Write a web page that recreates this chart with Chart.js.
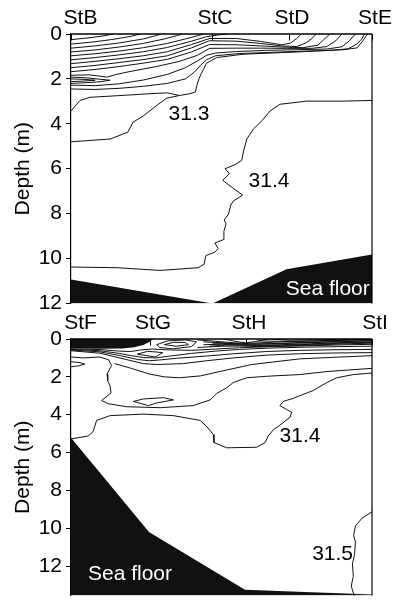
<!DOCTYPE html>
<html>
<head>
<meta charset="utf-8">
<script src="https://cdn.jsdelivr.net/npm/chart.js@4"></script>
<style>
  html, body { margin: 0; padding: 0; background: #fff; }
  #wrap { position: relative; width: 395px; height: 612px; overflow: hidden; }
  canvas { position: absolute; left: 0; }
</style>
</head>
<body>
<div id="wrap">
  <canvas id="upper" width="395" height="320" style="top:0"></canvas>
  <canvas id="lower" width="395" height="312" style="top:300px"></canvas>
</div>
<script>
// ---- shared ----
const depthTicks = [0, 2, 4, 6, 8, 10, 12];

// ---- upper section: StB - StE (x = % of section length, y = depth in m) ----
const upperStations = ['StB', 'StC', 'StD', 'StE'];
const upperStationPos = [0, 46.8, 72.4, 100];
const upperSeaFloor = [[0, 10.93], [47, 12], [71.6, 10.48], [100, 9.82]];

// 31.3 isohaline: rises from 4.8 m at StB, climbs at StC and runs under the surface layer to StE
const upperIso313 = [[0, 4.8], [13, 4.68], [18.9, 4.37], [20.6, 3.93], [24, 3.65], [28.5, 3.18], [31.8, 2.86],
  [36, 2.74], [39.5, 2.66], [41.3, 2.58], [41.8, 2.3], [42.5, 2.0], [43.3, 1.76], [44, 1.58], [45, 1.3],
  [46.8, 1.17], [48.4, 1.05], [57.2, 0.9], [75, 0.8], [90.5, 0.7], [95, 0.62], [96.7, 0.35], [98.2, 0.06], [98.7, 0]];

const upperIso314 = [[0, 10.38], [15.3, 10.41], [29.6, 10.53], [42.2, 10.41], [44.2, 10.26], [44.8, 9.87],
  [47.8, 9.72], [48.9, 9.56], [47.8, 9.31], [50.6, 9.16], [50.8, 8.79], [51.5, 8.46], [50.9, 8.28],
  [52.3, 8.03], [53.1, 7.62], [53.9, 7.44], [57.0, 7.18], [50.4, 6.52], [52.6, 6.22], [51.2, 6.0],
  [54.5, 5.82], [56.7, 5.63], [57.5, 5.12], [58.4, 4.68], [60.6, 4.23], [63.4, 3.87], [66.1, 3.43],
  [69.4, 3.13], [78.3, 2.99], [90.5, 2.99], [100, 2.96]];

// shallow isohalines crowding the surface layer
const upperLayers = [
  [[0, 0.25], [6, 0.17], [11, 0.08], [14, 0]],
  [[0, 0.45], [7, 0.36], [14, 0.24], [20, 0.1], [23, 0]],
  [[0, 0.63], [8, 0.53], [16, 0.4], [24, 0.22], [28, 0.08], [30, 0]],
  [[0, 0.8], [8, 0.71], [16, 0.58], [24, 0.42], [31, 0.22], [35, 0.08], [37, 0]],
  [[0, 0.97], [8, 0.88], [16, 0.76], [24, 0.61], [32, 0.42], [38, 0.22], [42, 0.08], [44, 0]],
  [[0, 1.15], [8, 1.05], [16, 0.93], [24, 0.79], [32, 0.6], [40, 0.32], [45, 0.12], [49, 0.04], [52, 0]],
  [[0, 1.32], [8, 1.22], [16, 1.1], [24, 0.97], [32, 0.79], [40, 0.47], [46, 0.2], [55, 0.2], [63, 0.33],
   [70, 0.48], [73, 0.4], [75, 0.2], [76.5, 0]],
  [[0, 1.5], [8, 1.4], [16, 1.27], [24, 1.14], [32, 0.97], [40, 0.62], [46, 0.3], [55, 0.32], [63, 0.42],
   [70, 0.53], [75, 0.56], [78, 0.4], [80, 0.2], [81.5, 0]],
  [[0, 1.68], [8, 1.58], [16, 1.45], [24, 1.3], [32, 1.13], [40, 0.8], [46, 0.47], [55, 0.48], [63, 0.53],
   [70, 0.58], [77, 0.61], [82, 0.5], [84, 0.25], [86, 0]],
  [[0, 1.84], [6, 1.82], [12, 1.92], [15, 1.8], [20, 1.66], [28, 1.46], [36, 1.22], [42, 0.95], [46, 0.64],
   [55, 0.63], [63, 0.63], [72, 0.64], [80, 0.64], [85, 0.56], [88, 0.3], [90, 0]],
  [[0, 1.92], [5, 1.95], [10, 2.02], [13, 2.06], [10, 2.12], [5, 2.17], [0, 2.2]],
  [[0, 2.0], [4, 2.02], [8, 2.06], [4, 2.1], [0, 2.12]],
  [[0, 2.28], [8, 2.3], [16, 2.22], [24, 2.05], [32, 1.8], [38, 1.5], [42, 1.2], [45, 0.95], [48, 0.85],
   [55, 0.78], [65, 0.73], [75, 0.7], [85, 0.67], [90, 0.57], [92.5, 0.3], [94.5, 0]],
  [[0, 2.45], [8, 2.47], [16, 2.42], [24, 2.33], [32, 2.2], [38, 2.0], [41, 1.7], [43, 1.4], [45, 1.15],
   [48, 0.97], [56, 0.87], [66, 0.82], [76, 0.77], [86, 0.73], [92, 0.66], [95, 0.45], [96.7, 0.2], [97.5, 0]],
  [[0, 3.43], [3, 2.96], [6.3, 2.82], [15.3, 2.75], [26.2, 2.66], [32, 2.62], [36, 2.74]]
];

const upperNotes = [
  { text: '31.3', x: 39.2, y: 3.57, color: '#000' },
  { text: '31.4', x: 65.8, y: 6.57, color: '#000' },
  { text: 'Sea floor', x: 85.3, y: 11.38, color: '#fff' }
];

// ---- lower section: StF - StI ----
const lowerStations = ['StF', 'StG', 'StH', 'StI'];
const lowerStationPos = [0, 26.2, 58.0, 100];
const lowerSeaFloor = [[0, 5.22], [25.9, 10.2], [57.8, 13.25], [100, 13.5]];
const lowerSurfaceCore = [[0, 0.5], [10, 0.52], [17, 0.5], [21, 0.44], [24, 0.32], [26, 0.16], [27, 0.04], [27.5, 0]];

const lowerIso314 = [[0, 5.28], [5.7, 5.13], [7.4, 4.88], [8.5, 4.3], [13, 4.05], [24, 3.97], [34, 4.05],
  [42.9, 4.3], [45.1, 4.63], [47.3, 5.05], [47.5, 5.47], [51.7, 5.75], [61.7, 5.72], [64.5, 5.47],
  [65.5, 5.13], [67.2, 4.8], [69.4, 4.55], [72.8, 4.13], [73.3, 3.88], [71.6, 3.72], [69.4, 3.52],
  [70.5, 3.3], [73.9, 3.13], [80.5, 2.72], [85, 2.3], [88.3, 2.05], [93.8, 1.88], [100, 1.8]];

const lowerIso315 = [[100, 9.13], [96.7, 9.47], [94.5, 9.88], [93.9, 10.39], [94.5, 10.72], [94.2, 11.39],
  [93.5, 11.88], [93.8, 12.55], [93.1, 13.05], [93.9, 13.47], [94, 13.55]];

const lowerLayers = [
  [[0, 0.95], [4, 1.0], [9.6, 0.95], [12.5, 1.1], [13.5, 1.4], [12, 1.85], [12.2, 2.2], [13, 2.5],
   [13.3, 2.85], [10.2, 3.25], [12.4, 3.42], [18.5, 3.58], [29.6, 3.63], [40.6, 3.52], [46.2, 3.22],
   [48.4, 2.88], [51.7, 2.58], [53.9, 2.3], [58.4, 2.05], [65, 1.97], [76, 1.88], [85, 1.72], [100, 1.55]],
  [[20.7, 3.3], [24, 3.17], [30.7, 3.1], [34, 3.22], [28.5, 3.38], [25.7, 3.52], [20.7, 3.3]],
  [[14.5, 1.3], [20, 1.55], [26, 1.85], [31, 2.0], [36, 2.05], [43, 1.95], [50, 1.7], [60, 1.35], [76, 1.05],
   [87, 0.97], [100, 0.88]],
  [[0, 0.62], [9.6, 0.75], [17.4, 1.05], [24, 1.3], [28.5, 1.35], [37.3, 1.3], [45, 1.15], [53.9, 1.0],
   [65, 0.85], [76, 0.78], [87, 0.74], [100, 0.72]],
  [[0, 0.58], [9.6, 0.68], [17, 0.9], [22, 1.08], [26, 1.15], [30, 1.1], [35, 1.02], [45, 0.9], [54, 0.78],
   [65, 0.66], [76, 0.6], [87, 0.57], [100, 0.55]],
  [[0, 0.55], [9.6, 0.62], [16, 0.76], [20, 0.88], [24, 0.98], [28, 1.0], [33, 0.9], [40, 0.76], [48, 0.64],
   [56, 0.55], [66, 0.48], [78, 0.43], [90, 0.4], [100, 0.38]],
  [[0, 0.52], [10, 0.56], [16, 0.64], [20, 0.66], [23, 0.58], [27, 0.53], [33, 0.58], [40, 0.6], [48, 0.53],
   [56, 0.46], [66, 0.41], [78, 0.36], [90, 0.31], [100, 0.28]],
  [[22, 0.8], [25.5, 0.65], [30.5, 0.72], [28, 0.95], [22, 0.8]],
  [[28.5, 0.3], [32, 0.1], [38, 0.05], [41.7, 0.15], [40, 0.4], [34, 0.52], [29.5, 0.45], [28.5, 0.3]],
  [[31, 0.3], [34, 0.18], [38, 0.18], [39, 0.3], [35, 0.38], [31, 0.3]],
  [[42, 0.05], [48, 0.12], [54, 0.2], [58, 0.23], [63, 0.2], [70, 0.15], [80, 0.1], [90, 0.06], [97, 0.02], [100, 0.02]],
  [[44, 0.15], [50, 0.2], [56, 0.27], [62, 0.28], [70, 0.24], [80, 0.19], [90, 0.14], [100, 0.1]],
  [[47, 0.22], [53, 0.24], [59, 0.26], [65, 0.25], [74, 0.2], [84, 0.15], [94, 0.1], [100, 0.07]],
  [[44, 0.3], [50, 0.28], [56, 0.31], [62, 0.33], [70, 0.3], [80, 0.25], [90, 0.19], [100, 0.15]],
  [[46, 0.38], [52, 0.32], [58, 0.33], [64, 0.35], [72, 0.32], [82, 0.27], [92, 0.21], [100, 0.18]],
  [[42, 0.45], [50, 0.38], [56, 0.37], [62, 0.4], [70, 0.37], [80, 0.32], [90, 0.26], [100, 0.22]],
  [[51, 0], [53, 0.08], [56, 0.16], [58, 0.2], [61, 0.14], [64, 0.05], [66, 0]],
  [[62, 0.1], [68, 0.12], [76, 0.12], [86, 0.09], [95, 0.05], [100, 0.04]],
  [[66, 0], [72, 0.06], [80, 0.05], [88, 0.02], [92, 0]],
  [[0, 1.2], [3, 1.25], [4.6, 1.33], [2.5, 1.42], [0, 1.47]]
];

const lowerNotes = [
  { text: '31.4', x: 76.1, y: 5.13, color: '#000' },
  { text: '31.5', x: 86.9, y: 11.38, color: '#000' },
  { text: 'Sea floor', x: 19.6, y: 12.42, color: '#fff' }
];

// ---- drawing ----
const FONT = "'Liberation Sans', Arial, Helvetica, sans-serif";
const INK = '#111';

const toXY = pts => pts.map(([x, y]) => ({ x, y }));

function lineSet(pts) {
  return { data: toXY(pts), showLine: true, pointRadius: 0, borderColor: INK, borderWidth: 1, fill: false, tension: 0 };
}

function fillSet(pts, toValue) {
  return { data: toXY(pts), showLine: true, pointRadius: 0, borderWidth: 0, borderColor: INK,
           backgroundColor: INK, fill: { value: toValue }, tension: 0 };
}

// frame, station ticks/names and in-plot annotations
const sectionDecor = {
  id: 'sectionDecor',
  afterDatasetsDraw(chart, args, opts) {
    const { ctx, chartArea: { left, right, top, bottom }, scales: { x, y } } = chart;
    ctx.save();
    ctx.strokeStyle = '#000';
    ctx.lineWidth = 1.2;
    ctx.beginPath();
    ctx.moveTo(right, bottom);
    ctx.lineTo(right, top);
    ctx.stroke();
    ctx.lineWidth = 1.6;
    ctx.beginPath();
    ctx.moveTo(left, top);
    ctx.lineTo(right, top);
    ctx.stroke();

    ctx.lineWidth = 1;
    ctx.fillStyle = '#000';
    ctx.font = '21px ' + FONT;
    ctx.textAlign = 'center';
    ctx.textBaseline = 'alphabetic';
    opts.positions.forEach((p, i) => {
      const px = Math.round(x.getPixelForValue(p)) + 0.5;
      ctx.beginPath();
      ctx.moveTo(px, top);
      ctx.lineTo(px, top + 6.5);
      ctx.stroke();
      const nudge = i === 0 ? 9 : 2.5;
      ctx.fillText(opts.names[i], px + nudge, top - 10.5);
    });

    ctx.textBaseline = 'middle';
    opts.notes.forEach(n => {
      ctx.fillStyle = n.color;
      ctx.fillText(n.text, x.getPixelForValue(n.x), y.getPixelForValue(n.y));
    });
    ctx.restore();
  }
};

function makeSection(canvasId, cfg) {
  const datasets = [];
  cfg.lines.forEach(l => datasets.push(lineSet(l)));
  cfg.fills.forEach(f => datasets.push(fillSet(f.pts, f.to)));
  return new Chart(document.getElementById(canvasId), {
    type: 'scatter',
    data: { datasets },
    plugins: [sectionDecor],
    options: {
      responsive: false,
      animation: false,
      devicePixelRatio: 1,
      layout: { padding: { left: 0, right: 23, top: cfg.top, bottom: cfg.bottom } },
      plugins: {
        legend: { display: false },
        tooltip: { enabled: false },
        sectionDecor: { names: cfg.names, positions: cfg.positions, notes: cfg.notes }
      },
      scales: {
        x: { type: 'linear', min: 0, max: 100, display: false },
        y: {
          type: 'linear', reverse: true, min: 0, max: cfg.maxDepth,
          afterBuildTicks: s => { s.ticks = depthTicks.map(v => ({ value: v })); },
          afterFit: s => { s.width = 71; },
          grid: { drawOnChartArea: false, drawTicks: true, tickLength: 5, color: '#000', tickWidth: 1 },
          border: { display: true, color: '#000', width: 1.2 },
          ticks: { color: '#000', padding: 4, font: { family: FONT, size: 21 } },
          title: { display: true, text: 'Depth (m)', color: '#000', padding: { top: 11, bottom: 0 },
                   font: { family: FONT, size: 21 } }
        }
      }
    }
  });
}

makeSection('upper', {
  top: 34, bottom: 14, maxDepth: 12,
  names: upperStations, positions: upperStationPos, notes: upperNotes,
  lines: [upperIso313, upperIso314, ...upperLayers],
  fills: [{ pts: upperSeaFloor, to: 12 }]
});

makeSection('lower', {
  top: 39, bottom: 2, maxDepth: 13.55,
  names: lowerStations, positions: lowerStationPos, notes: lowerNotes,
  lines: [lowerIso314, lowerIso315, ...lowerLayers],
  fills: [{ pts: lowerSeaFloor, to: 13.55 }, { pts: lowerSurfaceCore, to: 0 }]
});
</script>
</body>
</html>
